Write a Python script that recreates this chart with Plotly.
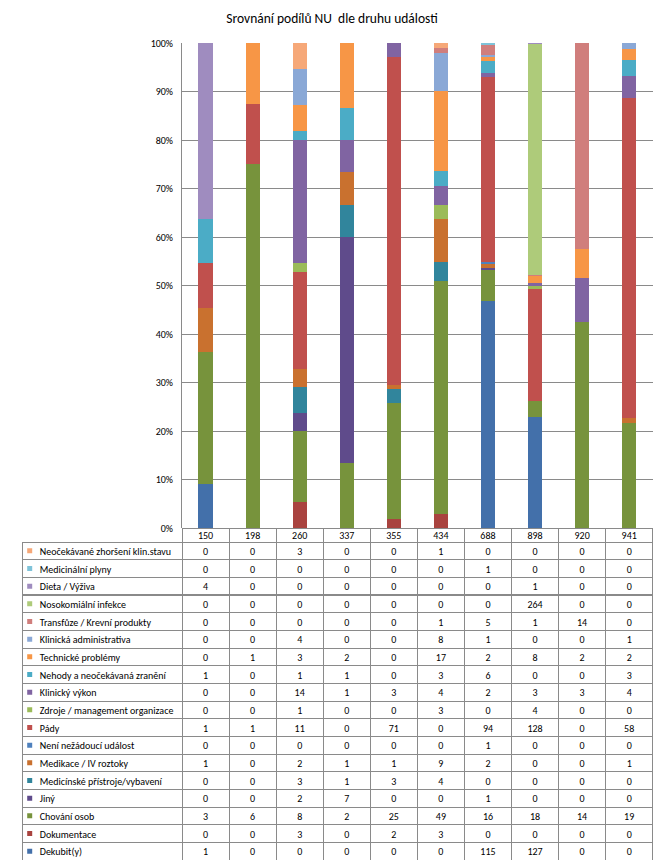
import plotly.graph_objects as go

PAGE_OFF = 8            # default body margin of the html page
W, H = 667 - PAGE_OFF, 866 - PAGE_OFF

categories = ["150", "198", "260", "337", "355", "434", "688", "898", "920", "941"]

# series listed bottom-of-stack first
series_names = [
    "Dekubit(y)",
    "Dokumentace",
    "Chování osob",
    "Jiný",
    "Medicínské přístroje/vybavení",
    "Medikace / IV roztoky",
    "Není nežádoucí událost",
    "Pády",
    "Zdroje / management organizace",
    "Klinický výkon",
    "Nehody a neočekávaná zranění",
    "Technické problémy",
    "Klinická administrativa",
    "Transfůze / Krevní produkty",
    "Nosokomiální infekce",
    "Dieta / Výživa",
    "Medicinální plyny",
    "Neočekávané zhoršení klin.stavu",
]

dekubit = [1, 0, 0, 0, 0, 0, 115, 127, 0, 0]
dokumentace = [0, 0, 3, 0, 2, 3, 0, 0, 0, 0]
chovani = [3, 6, 8, 2, 25, 49, 16, 18, 14, 19]
jiny = [0, 0, 2, 7, 0, 0, 1, 0, 0, 0]
pristroje = [0, 0, 3, 1, 3, 4, 0, 0, 0, 0]
medikace = [1, 0, 2, 1, 1, 9, 2, 0, 0, 1]
neni = [0, 0, 0, 0, 0, 0, 1, 0, 0, 0]
pady = [1, 1, 11, 0, 71, 0, 94, 128, 0, 58]
zdroje = [0, 0, 1, 0, 0, 3, 0, 4, 0, 0]
klin_vykon = [0, 0, 14, 1, 3, 4, 2, 3, 3, 4]
nehody = [1, 0, 1, 1, 0, 3, 6, 0, 0, 3]
technicke = [0, 1, 3, 2, 0, 17, 2, 8, 2, 2]
klin_admin = [0, 0, 4, 0, 0, 8, 1, 0, 0, 1]
transfuze = [0, 0, 0, 0, 0, 1, 5, 1, 14, 0]
nosokomialni = [0, 0, 0, 0, 0, 0, 0, 264, 0, 0]
dieta = [4, 0, 0, 0, 0, 0, 0, 1, 0, 0]
plyny = [0, 0, 0, 0, 0, 0, 1, 0, 0, 0]
neocekavane = [0, 0, 3, 0, 0, 1, 0, 0, 0, 0]

series_values = [dekubit, dokumentace, chovani, jiny, pristroje, medikace, neni, pady,
                 zdroje, klin_vykon, nehody, technicke, klin_admin, transfuze,
                 nosokomialni, dieta, plyny, neocekavane]

colors = ["#4370AA", "#A9433F", "#77933C", "#5F4B8B", "#31859C", "#C9712F",
          "#4F81BD", "#C0504D", "#9BBB59", "#8064A2", "#4BACC6", "#F79646",
          "#8AA8D6", "#D07E7C", "#AECB7A", "#9F8CBF", "#7FC3D9", "#F6A878"]

y_tick_vals = [0, 10, 20, 30, 40, 50, 60, 70, 80, 90, 100]
y_tick_text = ["0%", "10%", "20%", "30%", "40%", "50%", "60%", "70%", "80%", "90%", "100%"]

FONT = "Carlito, Lato, 'Open Sans', sans-serif"
GRID = "#8a8a8a"
CLEAR = "rgba(0,0,0,0)"


def px_x(p):
    return (p - PAGE_OFF) / W


def px_y(p):
    return 1 - (p - PAGE_OFF) / H


# page-pixel layout
TX0, TLAB, TX1 = 22.7, 182, 652.7     # table left, label column right, table right
PTOP, PBOT = 43, 528                  # plot 100% and 0%
HDR_BOT, TBOT = 542, 860              # header row bottom, table bottom
TEXT_SHIFT = 2.5                      # lift of the table text inside its cells
n_rows = len(series_names)
row_h = (TBOT - HDR_BOT) / n_rows
n_cols = len(categories)
col_w = (TX1 - TLAB) / n_cols

fig = go.Figure()
for name, vals, col in zip(series_names, series_values, colors):
    fig.add_trace(go.Bar(x=categories, y=vals, name=name,
                         marker=dict(color=col, line=dict(width=0)),
                         showlegend=False, xaxis="x", yaxis="y"))

# data table (rows listed top-to-bottom = reverse stack order)
rows_names = series_names[::-1]
rows_vals = series_values[::-1]
rows_cols = colors[::-1]
NB = "\u00a0"
label_cells = [NB * 4 + n.replace(" ", NB) for n in rows_names]
columns = [label_cells] + [[str(v[i]) for v in rows_vals] for i in range(n_cols)]
blank_columns = [[""] * n_rows for _ in range(n_cols + 1)]

# grid of the table
fig.add_trace(go.Table(
    domain=dict(x=[px_x(TX0), px_x(TX1)], y=[px_y(TBOT), px_y(PBOT)]),
    columnwidth=[TLAB - TX0] + [col_w] * n_cols,
    header=dict(values=[""] * (n_cols + 1), height=HDR_BOT - PBOT,
                fill=dict(color=CLEAR),
                line=dict(color=[CLEAR] + [GRID] * n_cols, width=1)),
    cells=dict(values=blank_columns, height=row_h,
               fill=dict(color=CLEAR), line=dict(color=GRID, width=1)),
))

# text of the table
fig.add_trace(go.Table(
    domain=dict(x=[px_x(TX0), px_x(TX1)], y=[px_y(TBOT - TEXT_SHIFT), px_y(PBOT - TEXT_SHIFT)]),
    columnwidth=[TLAB - TX0] + [col_w] * n_cols,
    header=dict(values=[""] * (n_cols + 1), height=HDR_BOT - PBOT,
                fill=dict(color=CLEAR), line=dict(color=CLEAR, width=0)),
    cells=dict(values=columns, height=row_h,
               fill=dict(color=CLEAR), line=dict(color=CLEAR, width=0),
               align=["left"] + ["center"] * n_cols,
               font=dict(family=FONT, size=10, color="#000")),
))

# legend keys of the data table, placed on an overlay axis spanning the label column
fig.add_trace(go.Scatter(
    x=[7] * n_rows, y=[i + 0.5 for i in range(n_rows)],
    mode="markers", marker=dict(symbol="square", size=5, color=rows_cols, line=dict(width=0)),
    showlegend=False, hoverinfo="skip", xaxis="x2", yaxis="y2"))

fig.update_layout(
    width=W, height=H,
    margin=dict(l=0, r=0, t=0, b=0, autoexpand=False),
    paper_bgcolor="white", plot_bgcolor="white",
    barmode="stack", barnorm="percent", bargap=0.70,
    title=dict(text="Srovnání podílů NU  dle druhu události", x=px_x(332), xanchor="center",
               y=px_y(18), yanchor="middle", automargin=False,
               font=dict(family=FONT, size=13.5, color="#000")),
    font=dict(family=FONT, size=10, color="#000"),
    xaxis=dict(domain=[px_x(TLAB), px_x(TX1)], showticklabels=True, ticks="",
               tickfont=dict(family=FONT, size=10, color="#000"),
               showgrid=False, zeroline=False, showline=False, automargin=False),
    yaxis=dict(domain=[px_y(PBOT), px_y(PTOP)], range=[0, 100], tickvals=y_tick_vals,
               ticktext=y_tick_text, showgrid=True, gridcolor=GRID, gridwidth=1,
               showline=True, linecolor=GRID, linewidth=1, ticks="", zeroline=False,
               automargin=False, tickfont=dict(family=FONT, size=10, color="#000"),
               ticklabelstandoff=6),
    xaxis2=dict(domain=[px_x(TX0), px_x(TLAB)], range=[0, TLAB - TX0], visible=False,
                automargin=False),
    yaxis2=dict(domain=[px_y(TBOT), px_y(HDR_BOT)], range=[n_rows, 0], visible=False,
                automargin=False),
)

fig.write_html("out.html")
